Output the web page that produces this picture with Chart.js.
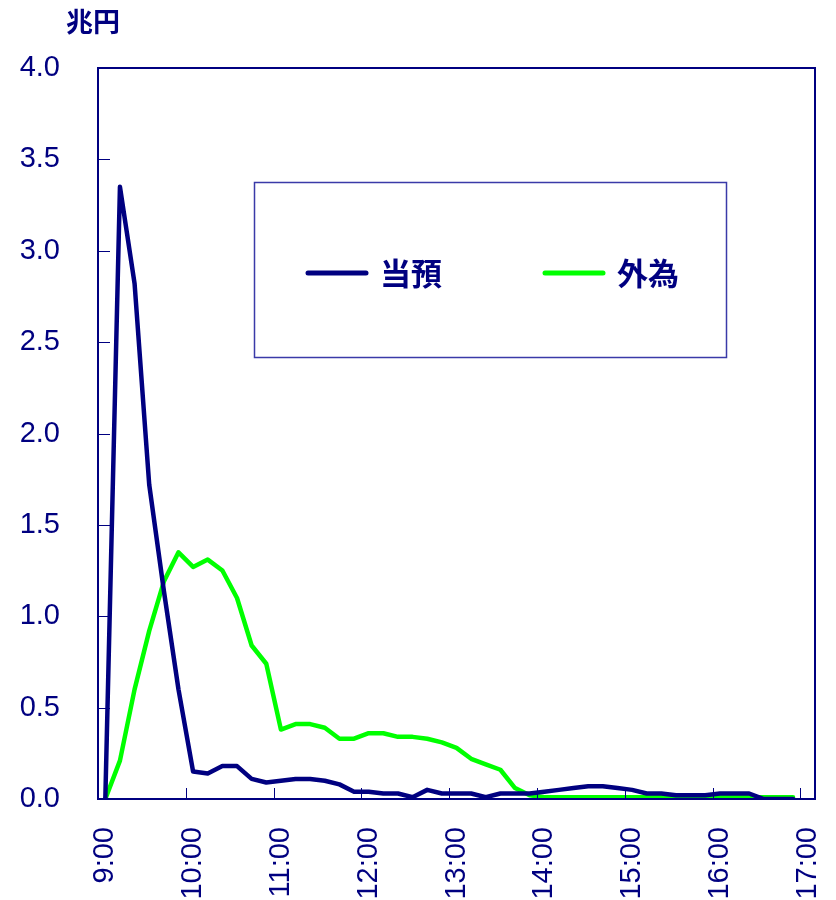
<!DOCTYPE html>
<html>
<head>
<meta charset="utf-8">
<script src="https://cdn.jsdelivr.net/npm/chart.js@4/dist/chart.umd.min.js"></script>
<style>
  body { margin: 0; background: #fff; }
</style>
</head>
<body>
<canvas id="flowChart" width="836" height="900"></canvas>
<script>
// DATA (10-minute intervals, 9:00 - 17:00)
const times = [];
for (let h = 9; h <= 17; h++) {
  for (let m = 0; m < 60; m += 10) {
    if (h === 17 && m > 0) break;
    times.push(h + ':' + String(m).padStart(2, '0'));
  }
}

const touyoLabel = '当預';
const touyo = [0, 3.35, 2.82, 1.72, 1.14, 0.6, 0.15, 0.14, 0.18, 0.18,
  0.11, 0.09, 0.10, 0.11, 0.11, 0.10, 0.08, 0.04, 0.04, 0.03,
  0.03, 0.01, 0.05, 0.03, 0.03, 0.03, 0.01, 0.03, 0.03, 0.03,
  0.04, 0.05, 0.06, 0.07, 0.07, 0.06, 0.05, 0.03, 0.03, 0.02,
  0.02, 0.02, 0.03, 0.03, 0.03, 0, 0, 0, null];

const gaitameLabel = '外為';
const gaitame = [0, 0.21, 0.6, 0.92, 1.19, 1.35, 1.27, 1.31, 1.25, 1.1,
  0.84, 0.74, 0.38, 0.41, 0.41, 0.39, 0.33, 0.33, 0.36, 0.36,
  0.34, 0.34, 0.33, 0.31, 0.28, 0.22, 0.19, 0.16, 0.06, 0.02,
  0.01, 0.01, 0.01, 0.01, 0.01, 0.01, 0.01, 0.01, 0.01, 0.01,
  0.01, 0.01, 0.01, 0.01, 0.01, 0.01, 0.01, 0.01, null];

const zeroLine = times.map(() => 0);

const yTicks = [0, 0.5, 1, 1.5, 2, 2.5, 3, 3.5, 4];

const NAVY = '#000080';
const GREEN = '#00FF00';

// frame, inner ticks, legend box, unit
const decorations = {
  id: 'decorations',
  afterDatasetsDraw(chart) {
    const { ctx, chartArea: a, scales } = chart;
    ctx.save();
    // inner tick marks
    ctx.strokeStyle = NAVY;
    ctx.lineWidth = 1;
    ctx.beginPath();
    yTicks.forEach(v => {
      if (v === 0 || v === 4) return;
      const y = Math.round(scales.y.getPixelForValue(v)) + 0.5;
      ctx.moveTo(a.left, y);
      ctx.lineTo(a.left + 12, y);
    });
    for (let i = 6; i < times.length; i += 6) {
      const x = Math.round((scales.x.getPixelForValue(i - 1) + scales.x.getPixelForValue(i)) / 2) + 0.5;
      ctx.moveTo(x, a.bottom);
      ctx.lineTo(x, a.bottom - 11);
    }
    ctx.stroke();

    // plot frame
    ctx.lineWidth = 2;
    ctx.strokeRect(a.left, a.top, a.right - a.left, a.bottom - a.top);

    // legend box inside plot
    ctx.strokeStyle = '#3a3aa8';
    ctx.lineWidth = 1.5;
    ctx.strokeRect(a.left + 156.5, 182.5, 472, 175);
    const items = [[chart.data.datasets[0], a.left + 208], [chart.data.datasets[1], a.left + 445]];
    ctx.font = 'bold 31px "Noto Sans CJK JP"';
    ctx.textBaseline = 'middle';
    ctx.textAlign = 'left';
    items.forEach(([ds, x]) => {
      ctx.strokeStyle = ds.borderColor;
      ctx.lineWidth = 5;
      ctx.lineCap = 'round';
      ctx.beginPath();
      ctx.moveTo(x + 2, 273);
      ctx.lineTo(x + 60, 273);
      ctx.stroke();
      ctx.fillStyle = NAVY;
      ctx.fillText(ds.label, x + 74, 273);
    });

    // unit
    ctx.font = 'bold 27px "Noto Sans CJK JP"';
    ctx.fillStyle = NAVY;
    ctx.fillText('兆円', 66, 22);
    ctx.restore();
  }
};

new Chart(document.getElementById('flowChart'), {
  type: 'line',
  data: {
    labels: times,
    datasets: [{
      label: touyoLabel,
      data: touyo,
      borderColor: NAVY,
      borderWidth: 4.5,
      order: 1
    }, {
      label: gaitameLabel,
      data: gaitame,
      borderColor: GREEN,
      borderWidth: 4.5,
      order: 2
    }, {
      label: '',
      data: zeroLine,
      borderColor: '#000000',
      borderWidth: 2,
      borderDash: [7, 5],
      order: 3
    }]
  },
  options: {
    responsive: false,
    animation: false,
    layout: { padding: { left: 0, right: 21, top: 68, bottom: 0 } },
    elements: {
      point: { radius: 0 },
      line: { tension: 0, borderJoinStyle: 'round', borderCapStyle: 'round' }
    },
    plugins: { legend: { display: false }, tooltip: { enabled: false } },
    scales: {
      x: {
        offset: true,
        grid: { display: false, drawTicks: false },
        border: { display: false },
        afterFit: s => { s.height = 101; s.paddingLeft = 0; s.paddingRight = 0; },
        ticks: {
          autoSkip: false,
          minRotation: 90,
          maxRotation: 90,
          padding: 28,
          color: NAVY,
          font: { family: '"Liberation Sans"', size: 29 },
          callback: function (v, i) { return i % 6 === 0 ? this.getLabelForValue(v) : ''; }
        }
      },
      y: {
        min: 0,
        max: 4,
        grid: { display: false, drawTicks: false },
        border: { display: false },
        afterFit: s => { s.width = 98; s.paddingTop = 0; s.paddingBottom = 0; },
        afterBuildTicks: s => { s.ticks = yTicks.map(v => ({ value: v })); },
        ticks: {
          padding: 38,
          color: NAVY,
          font: { family: '"Liberation Sans"', size: 29 },
          callback: v => v.toFixed(1)
        }
      }
    }
  },
  plugins: [decorations]
});
</script>
</body>
</html>
